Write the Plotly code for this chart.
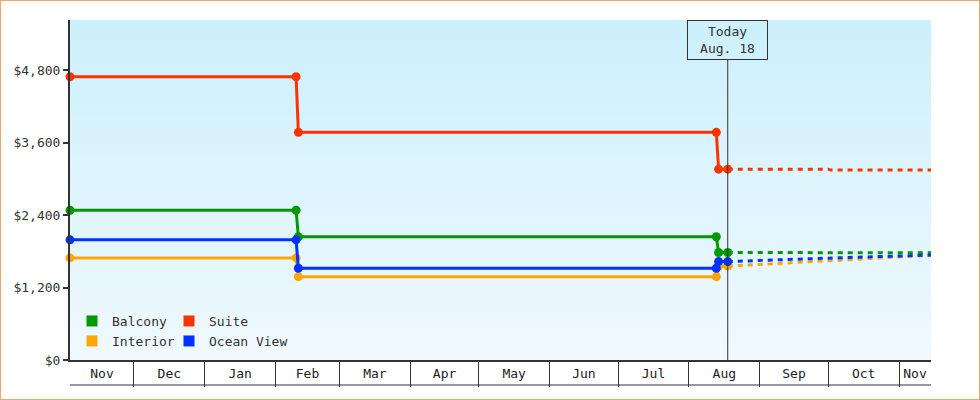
import base64
import pandas as pd
import plotly.graph_objects as go

# ---------------- data ----------------
price_dates = ["2018-11-03", "2019-02-10", "2019-02-11", "2019-08-13", "2019-08-14", "2019-08-18"]
balcony = [2480, 2480, 2040, 2040, 1780, 1780]
suite = [4690, 4690, 3770, 3770, 3160, 3160]
interior = [1690, 1690, 1380, 1380, 1555, 1555]
ocean_view = [1990, 1990, 1520, 1520, 1630, 1630]

forecast_dates = ["2019-08-18", "2019-09-08", "2019-09-26", "2019-10-01", "2019-10-02",
                  "2019-10-14", "2019-11-01", "2019-11-15"]
fc_balcony = [1780, 1778, 1777, 1776, 1776, 1775, 1775, 1775]
fc_suite = [3160, 3160, 3160, 3160, 3145, 3145, 3145, 3145]
fc_interior = [1555, 1600, 1638, 1647, 1649, 1678, 1712, 1735]
fc_ocean_view = [1630, 1660, 1685, 1690, 1691, 1703, 1722, 1738]

series_names = ["Balcony", "Suite", "Interior", "Ocean View"]
today_label = "Today<br>Aug. 18"
today_date = "2019-08-18"
y_ticks = [0, 1200, 2400, 3600, 4800]
y_tick_labels = ["$0", "$1,200", "$2,400", "$3,600", "$4,800"]
y_max = 5630

# ---------------- style ----------------
colors = {"Balcony": "#009900", "Suite": "#ff3300", "Interior": "#ffa500", "Ocean View": "#0033ff"}
ink = "#333333"
font_family = "DejaVu Sans Mono"

hist = {"Balcony": balcony, "Suite": suite, "Interior": interior, "Ocean View": ocean_view}
fc = {"Balcony": fc_balcony, "Suite": fc_suite, "Interior": fc_interior, "Ocean View": fc_ocean_view}

plot_w = 980 - 70 - 49
plot_h = 400 - 20 - 40

fig = go.Figure()

# forecast (dotted) lines
for name in series_names:
    fig.add_trace(go.Scatter(
        x=forecast_dates, y=fc[name], mode="lines", showlegend=False,
        line=dict(color=colors[name], width=3, dash="5px,5px"),
        cliponaxis=False, hoverinfo="skip"))

# historical lines with markers
for name in series_names:
    fig.add_trace(go.Scatter(
        x=price_dates, y=hist[name], mode="lines+markers", showlegend=False,
        line=dict(color=colors[name], width=3),
        marker=dict(color=colors[name], size=9, symbol="circle"),
        cliponaxis=False, name=name))

# legend entries (square swatches), one small legend per entry in a 2x2 grid
legend_ids = {"Balcony": "legend", "Suite": "legend2", "Interior": "legend3", "Ocean View": "legend4"}
legend_pos = {  # left edge (px from plot left), row centre (px from plot bottom)
    "Balcony": (2, 39), "Suite": (99, 39), "Interior": (2, 19), "Ocean View": (99, 19)}
for name in series_names:
    fig.add_trace(go.Scatter(
        x=[None], y=[None], mode="markers", name=name, legend=legend_ids[name],
        marker=dict(color=colors[name], size=11, symbol="square")))

legend_layout = {}
for name in series_names:
    lx, ly = legend_pos[name]
    legend_layout[legend_ids[name]] = dict(
        orientation="h", x=lx / plot_w, xanchor="left", y=ly / plot_h, yanchor="middle",
        bgcolor="rgba(0,0,0,0)", borderwidth=0,
        font=dict(family=font_family, size=13, color=ink), itemclick=False)

# ---------------- x axis: month bands ----------------
x_start = pd.Timestamp(price_dates[0])
x_end = pd.Timestamp(forecast_dates[-1])
month_starts = list(pd.date_range(x_start, x_end, freq="MS"))
bounds = [x_start] + month_starts + [x_end]
mids, labels = [], []
for a, b in zip(bounds[:-1], bounds[1:]):
    if b > a:
        mids.append(a + (b - a) / 2)
        labels.append(a.strftime("%b"))

svg = ('<svg xmlns="http://www.w3.org/2000/svg" width="10" height="100" viewBox="0 0 10 100" '
       'preserveAspectRatio="none"><defs><linearGradient id="g" x1="0" y1="0" x2="0" y2="1">'
       '<stop offset="0" stop-color="#ccf0fc"/><stop offset="1" stop-color="#f0f9fe"/>'
       '</linearGradient></defs><rect width="10" height="100" fill="url(#g)"/></svg>')
svg_uri = "data:image/svg+xml;base64," + base64.b64encode(svg.encode()).decode()

fig.update_layout(
    width=980, height=400, autosize=False,
    margin=dict(l=70, r=49, t=20, b=40, pad=0),
    paper_bgcolor="white", plot_bgcolor="rgba(0,0,0,0)",
    font=dict(family=font_family, size=13, color=ink),
    images=[dict(source=svg_uri, xref="paper", yref="paper", x=0, y=1, sizex=1, sizey=1,
                 xanchor="left", yanchor="top", sizing="stretch", layer="below")],
    xaxis=dict(
        type="date", range=[x_start, x_end], showgrid=False, zeroline=False,
        showline=True, linecolor=ink, linewidth=2,
        tickmode="array", tickvals=mids, ticktext=labels, ticks="",
        tickfont=dict(family=font_family, size=13, color="#222"),
        minor=dict(tickmode="array", tickvals=month_starts, ticks="outside",
                   ticklen=25, tickwidth=1, tickcolor=ink, showgrid=False),
    ),
    yaxis=dict(
        range=[0, y_max], showgrid=False, zeroline=False,
        showline=True, linecolor=ink, linewidth=2,
        tickmode="array", tickvals=y_ticks, ticktext=y_tick_labels,
        ticks="outside", ticklen=5, tickwidth=2, tickcolor=ink,
        tickfont=dict(family=font_family, size=13, color=ink),
    ),
    showlegend=True,
    annotations=[dict(
        x=today_date, xref="x", y=0, yref="paper", text=today_label,
        showarrow=True, arrowhead=0, arrowwidth=1, arrowcolor=ink, ax=0, ay=-320,
        font=dict(family=font_family, size=13, color=ink),
        bordercolor=ink, borderwidth=1, borderpad=2, bgcolor="rgba(0,0,0,0)",
        width=75, height=34, align="center")],
    shapes=[
        # bottom line of the month band
        dict(type="line", xref="paper", yref="paper", x0=0, x1=1,
             y0=-25 / plot_h, y1=-25 / plot_h, line=dict(color=ink, width=1)),
        # outer frame
        dict(type="rect", xref="paper", yref="paper", x0=-70 / plot_w, x1=(980 - 70) / plot_w,
             y0=-40 / plot_h, y1=1 + 20 / plot_h, line=dict(color="#e9aa66", width=2)),
    ],
    **legend_layout,
)

fig.write_html("out.html", config={"displayModeBar": False},
               post_script="document.body.style.margin='0';")
